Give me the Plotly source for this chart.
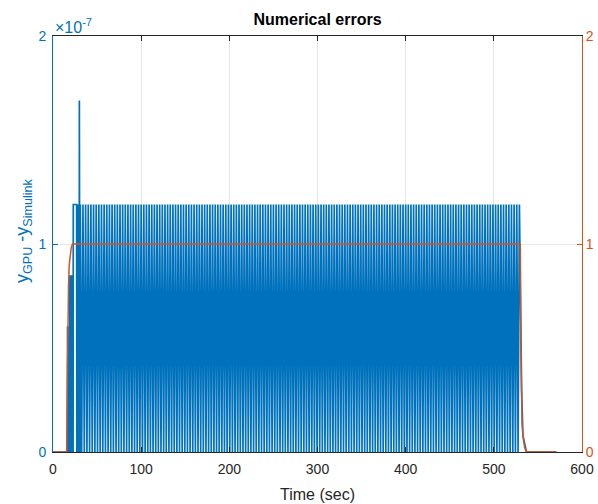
import numpy as np
import plotly.graph_objects as go

# ---- data ----
# GPU - Simulink error, early transient samples (sec, value)
err_early_t = [0.0, 16.3, 16.5, 17.3, 17.5, 18.2, 18.4, 19.2, 19.4, 20.2, 20.4, 21.2, 21.4,
               22.8, 23.0, 26.8, 27.0, 27.8, 28.0, 28.8, 29.0, 29.7, 29.9, 30.3, 30.5]
err_early_v = [0.0, 0.0, 0.6e-7, 0.6e-7, 0.0, 0.6e-7, 0.0, 0.85e-7, 0.0, 0.85e-7, 0.0, 0.85e-7, 0.0,
               0.0, 1.19e-7, 1.19e-7, 0.0, 1.19e-7, 0.0, 1.19e-7, 0.0, 0.0, 1.69e-7, 0.0, 0.0]
# steady part: error toggles between these two levels every sample
osc_levels = [1.19e-7, 0.0]
osc_start = 31.0
osc_end = 530.5
osc_step = 1.5
# decay after the input is switched off
err_tail_t = [531.5, 533.0, 537.0, 571.0]
err_tail_v = [0.3e-7, 0.08e-7, 0.0, 0.0]

# reference signal (right axis)
ref_t = [0.0, 15.5, 16.0, 16.5, 17.0, 17.6, 18.4, 19.4, 20.6, 22.0,
         530.0, 530.5, 531.0, 532.0, 533.5, 535.0, 537.0, 571.0]
ref_v = [0.0, 0.0, 0.25, 0.5, 0.68, 0.8, 0.9, 0.95, 0.98, 1.0,
         1.0, 0.55, 0.3, 0.13, 0.06, 0.02, 0.0, 0.0]

x_ticks = [0, 100, 200, 300, 400, 500, 600]
left_tickvals = [0.0, 1e-7, 2e-7]
left_ticktext = ["0", "1", "2"]
right_ticks = [0, 1, 2]

BLUE = "#0072BD"
ORANGE = "#D95319"
FONT = "Liberation Sans, Arial, sans-serif"

osc_t = np.arange(osc_start, osc_end, osc_step)
osc_v = np.resize(np.array(osc_levels), osc_t.size)
err_t = np.concatenate([err_early_t, osc_t, err_tail_t])
err_v = np.concatenate([err_early_v, osc_v, err_tail_v])

fig = go.Figure()
fig.add_trace(go.Scatter(x=err_t, y=err_v, mode="lines",
                         line=dict(color=BLUE, width=1.7), yaxis="y", showlegend=False,
                         hoverinfo="skip"))
fig.add_trace(go.Scatter(x=ref_t, y=ref_v, mode="lines",
                         line=dict(color=ORANGE, width=1.5), yaxis="y2", showlegend=False,
                         hoverinfo="skip"))

fig.update_layout(
    width=598, height=504,
    margin=dict(l=53, r=16, t=36, b=52, autoexpand=False),
    paper_bgcolor="white", plot_bgcolor="white",
    font=dict(family=FONT, size=14, color="#262626"),
    title=dict(text="<b>Numerical errors</b>", x=0.5, xref="paper", xanchor="center",
               y=1 - 19 / 504, yanchor="middle", font=dict(size=16, color="#000000", family=FONT)),
    xaxis=dict(range=[0, 600], tickvals=x_ticks, ticks="inside", ticklen=5, tickcolor="#262626",
               showline=True, linecolor="#262626", linewidth=1, mirror="ticks",
               showgrid=True, gridcolor="#e5e5e5", zeroline=False, ticklabelstandoff=4,
               tickfont=dict(size=14, color="#262626")),
    yaxis=dict(range=[0, 2e-7], tickvals=left_tickvals, ticktext=left_ticktext,
               ticks="inside", ticklen=5, tickcolor=BLUE, showline=True, linecolor=BLUE,
               linewidth=1, showgrid=True, gridcolor="#e3e8ee", zeroline=False,
               ticklabelstandoff=3, tickfont=dict(size=14, color=BLUE)),
    yaxis2=dict(range=[0, 2], tickvals=right_ticks, overlaying="y", side="right",
                ticks="inside", ticklen=5, tickcolor=ORANGE, showline=True, linecolor=ORANGE,
                linewidth=1, showgrid=False, zeroline=False,
                tickfont=dict(size=14, color=ORANGE)),
    annotations=[
        dict(text="Time (sec)", xref="paper", yref="paper", x=0.5, y=-(494 - 452) / 416,
             xanchor="center", yanchor="middle", showarrow=False,
             font=dict(size=16, color="#262626", family=FONT)),
        dict(text="y<sub>GPU</sub> -y<sub>Simulink</sub>", xref="paper", yref="paper",
             x=-(53 - 23) / 529, y=(452 - 231) / 416, xanchor="center", yanchor="middle",
             textangle=-90, showarrow=False, font=dict(size=18, color=BLUE, family=FONT)),
        dict(text="\u00d710<sup>-7</sup>", xref="paper", yref="paper", x=0, y=1,
             xanchor="left", yanchor="bottom", xshift=0, yshift=-2, showarrow=False,
             font=dict(size=16, color=BLUE, family=FONT)),
    ],
)

fig.write_html("out.html", config={"displayModeBar": False},
               post_script="document.body.style.margin='0';document.body.style.overflow='hidden';")
